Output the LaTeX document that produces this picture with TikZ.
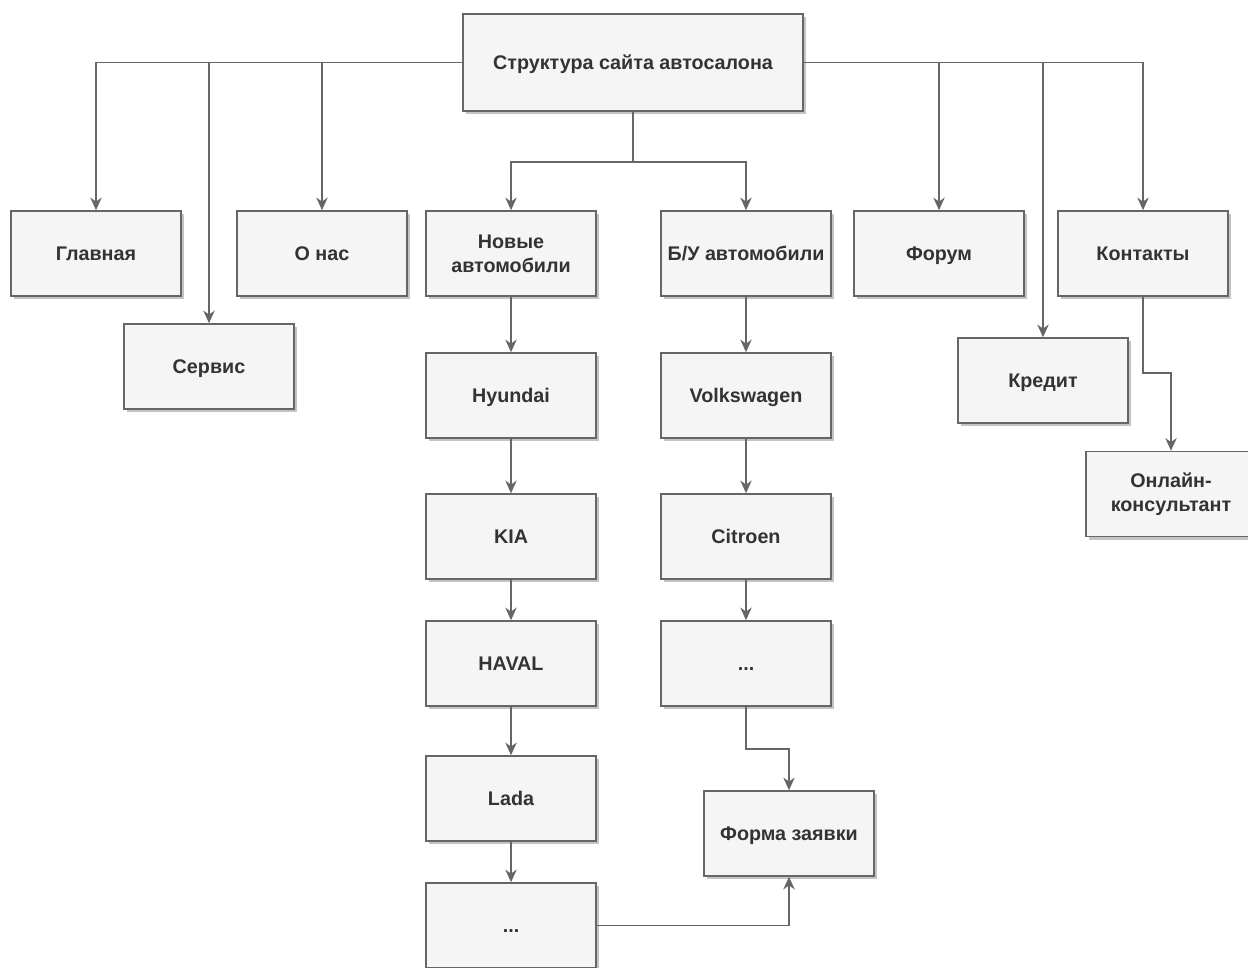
\documentclass[tikz,border=0pt]{standalone}
\usepackage{fontspec}
\setmainfont{Liberation Sans}
\usetikzlibrary{arrows.meta,shadows}
\definecolor{boxfill}{HTML}{F5F5F5}
\definecolor{boxline}{HTML}{666666}
\definecolor{boxtext}{HTML}{333333}
\definecolor{shadowc}{HTML}{C4C4C4}
\begin{document}
\begin{tikzpicture}[x=0.75pt,y=-0.75pt,
  box/.style={draw=boxline, fill=boxfill, line width=1.1pt, text=boxtext,
    minimum width=127.5pt, minimum height=63.75pt, inner sep=2pt, align=center,
    font=\fontsize{14.8}{18}\selectfont\bfseries,
    drop shadow={shadow xshift=2.6pt, shadow yshift=-2.6pt, fill=shadowc, opacity=1}},
  onel/.style={box, text height=14pt, text depth=3.4pt},
  rootbox/.style={onel, minimum width=255pt, minimum height=72.75pt},
  conn/.style={draw=boxline, line width=1.1pt, -{Stealth[length=9.5pt,width=8.5pt,inset=3pt]}}
]
\useasboundingbox (0,0) rectangle (1248,967);
\node[rootbox] (root) at (633,62.5) {Структура сайта автосалона};
\node[onel] (glav) at (96,253.5) {Главная};
\node[onel] (serv) at (209,366.5) {Сервис};
\node[onel] (onas) at (322,253.5) {О нас};
\node[box] (novye) at (511,253.5) {Новые\\автомобили};
\node[onel] (bu) at (746,253.5) {Б/У автомобили};
\node[onel] (forum) at (939,253.5) {Форум};
\node[onel] (kont) at (1143,253.5) {Контакты};
\node[onel] (kred) at (1043,380.5) {Кредит};
\node[box] (online) at (1171,494) {Онлайн-\\консультант};
\node[onel] (hyun) at (511,395.5) {Hyundai};
\node[onel] (kia) at (511,536.5) {KIA};
\node[onel] (haval) at (511,663.5) {HAVAL};
\node[onel] (lada) at (511,798.5) {Lada};
\node[onel] (dotsa) at (511,925.5) {...};
\node[onel] (vw) at (746,395.5) {Volkswagen};
\node[onel] (citr) at (746,536.5) {Citroen};
\node[onel] (dotsb) at (746,663.5) {...};
\node[onel] (forma) at (789,833.5) {Форма заявки};
\coordinate (rb) at (633,162);
\coordinate (kb) at (1143,373);
\coordinate (db) at (746,749);
\draw[conn] (root.west) -| (glav.north);
\draw[conn] (root.west) -| (serv.north);
\draw[conn] (root.west) -| (onas.north);
\draw[conn] (root.east) -| (forum.north);
\draw[conn] (root.east) -| (kred.north);
\draw[conn] (root.east) -| (kont.north);
\draw[conn] (root.south) -- (rb) -| (novye.north);
\draw[conn] (root.south) -- (rb) -| (bu.north);
\draw[conn] (novye) -- (hyun);
\draw[conn] (hyun) -- (kia);
\draw[conn] (kia) -- (haval);
\draw[conn] (haval) -- (lada);
\draw[conn] (lada) -- (dotsa);
\draw[conn] (bu) -- (vw);
\draw[conn] (vw) -- (citr);
\draw[conn] (citr) -- (dotsb);
\draw[conn] (dotsb.south) -- (db) -| (forma.north);
\draw[conn] (dotsa.east) -| (forma.south);
\draw[conn] (kont.south) -- (kb) -| (online.north);
\end{tikzpicture}
\end{document}
